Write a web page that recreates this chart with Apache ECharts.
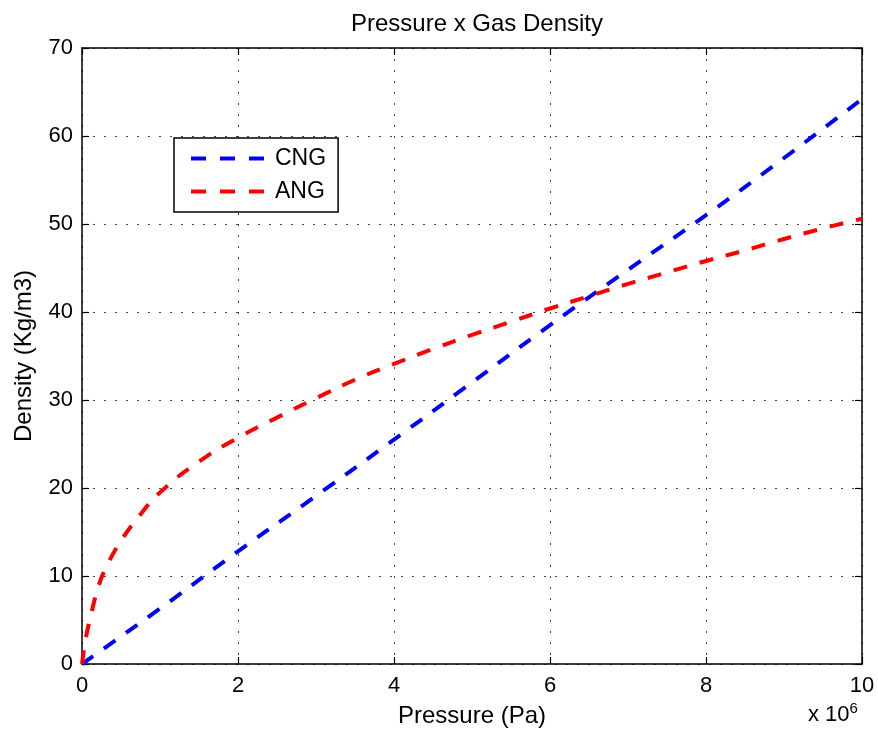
<!DOCTYPE html>
<html>
<head>
<meta charset="utf-8">
<script src="https://cdn.jsdelivr.net/npm/echarts@6/dist/echarts.min.js"></script>
<style>
  html, body { margin: 0; padding: 0; background: #fff; }
  #main { width: 878px; height: 738px; }
</style>
</head>
<body>
<div id="main"></div>
<script>
// pressure in units of 1e6 Pa
var cngPressure = [0, 1, 2, 3, 4, 5, 6, 7, 8, 9, 10];
var cngDensity = [0, 6.3, 12.8, 19.1, 25.5, 32.0, 38.5, 44.8, 51.0, 57.5, 64.2];

var angPressure = [0, 0.05, 0.1, 0.2, 0.3, 0.5, 0.75, 1, 1.5, 2, 2.5, 3, 3.5, 4, 4.5, 5, 5.5, 6, 6.5, 7, 7.5, 8, 8.5, 9, 9.5, 10];
var angDensity = [0, 3, 5, 8.5, 10.8, 14, 17, 19.5, 23, 25.7, 28, 30.2, 32.3, 34.1, 35.8, 37.4, 38.9, 40.4, 41.8, 43.2, 44.5, 45.8, 47, 48.3, 49.5, 50.6];

function pairs(xs, ys) {
	return xs.map(function (x, i) { return [x, ys[i]]; });
}

var font = 'Liberation Sans, Arial, sans-serif';
var chart = echarts.init(document.getElementById('main'));

var dotted = { show: true, lineStyle: { type: [2, 9], color: '#444', width: 1 } };
var boxLine = { show: true, onZero: false, lineStyle: { color: '#000', width: 1.5 } };
var inTick = { show: true, inside: true, length: 7, lineStyle: { color: '#000', width: 1.2 } };

chart.setOption({
	animation: false,
	title: {
		text: 'Pressure x Gas Density',
		left: 472, top: 7, textAlign: 'center',
		textStyle: { fontFamily: font, fontSize: 24, fontWeight: 'normal', color: '#000' }
	},
	grid: { left: 82, right: 16, top: 48, bottom: 74 },
	legend: {
		left: 174, top: 138,
		orient: 'vertical',
		padding: [9, 12, 9, 15],
		itemGap: 10,
		itemWidth: 73, itemHeight: 23,
		borderColor: '#000', borderWidth: 1.5, borderRadius: 0,
		backgroundColor: '#fff',
		itemStyle: { opacity: 0 },
		lineStyle: { width: 4, type: [15, 14] },
		textStyle: { fontFamily: font, fontSize: 23, color: '#000', padding: [0, 0, 0, 6] },
		data: ['CNG', 'ANG']
	},
	xAxis: [{
		type: 'value', min: 0, max: 10, interval: 2,
		name: 'Pressure (Pa)', nameLocation: 'middle', nameGap: 40,
		nameTextStyle: { fontFamily: font, fontSize: 24, color: '#000' },
		axisLine: boxLine, axisTick: inTick,
		axisLabel: { fontFamily: font, fontSize: 22, color: '#000', margin: 11 },
		splitLine: dotted
	}, {
		type: 'value', min: 0, max: 10, interval: 2, position: 'top',
		axisLine: boxLine, axisTick: inTick,
		axisLabel: { show: false }, splitLine: { show: false }
	}],
	yAxis: [{
		type: 'value', min: 0, max: 70, interval: 10,
		name: 'Density (Kg/m3)', nameLocation: 'middle', nameGap: 46,
		nameTextStyle: { fontFamily: font, fontSize: 24, color: '#000' },
		axisLine: boxLine, axisTick: inTick,
		axisLabel: { fontFamily: font, fontSize: 22, color: '#000', margin: 9 },
		splitLine: dotted
	}, {
		type: 'value', min: 0, max: 70, interval: 10, position: 'right',
		axisLine: boxLine, axisTick: inTick,
		axisLabel: { show: false }, splitLine: { show: false }
	}],
	graphic: [{
		type: 'text', left: 808, top: 701,
		style: {
			text: 'x 10{s|6}',
			rich: { s: { fontFamily: font, fontSize: 15, verticalAlign: 'top', padding: [0, 0, 12, 0] } },
			fontFamily: font, fontSize: 22, fill: '#000'
		}
	}],
	series: [{
		name: 'CNG', type: 'line', data: pairs(cngPressure, cngDensity),
		showSymbol: false, symbol: 'none', smooth: true,
		lineStyle: { color: '#0000ff', width: 4, type: [14, 13] },
		itemStyle: { color: '#0000ff' }
	}, {
		name: 'ANG', type: 'line', data: pairs(angPressure, angDensity),
		showSymbol: false, symbol: 'none', smooth: true,
		lineStyle: { color: '#ff0000', width: 4, type: [14, 13] },
		itemStyle: { color: '#ff0000' }
	}]
});
</script>
</body>
</html>
